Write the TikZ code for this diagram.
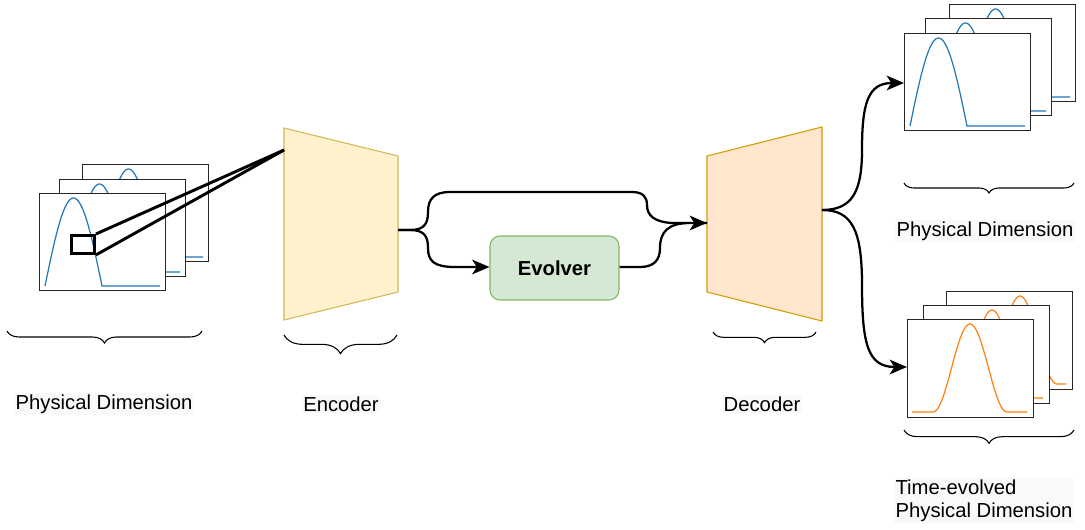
\documentclass[tikz,border=0pt]{standalone}
\usepackage{fontspec}
\setmainfont{Liberation Sans}
\usetikzlibrary{arrows.meta,decorations.pathreplacing}
\definecolor{encfill}{HTML}{FFF2CC}
\definecolor{encdraw}{HTML}{D6B656}
\definecolor{decfill}{HTML}{FFE6CC}
\definecolor{decdraw}{HTML}{D79B00}
\definecolor{evofill}{HTML}{D5E8D4}
\definecolor{evodraw}{HTML}{82B366}
\definecolor{plotblue}{HTML}{1F77B4}
\definecolor{plotorange}{HTML}{FF7F0E}
\definecolor{labelbg}{HTML}{F8F9FA}
\tikzset{
  framebox/.style={draw=black!85, fill=white, line width=0.8pt, minimum width=94.5pt, minimum height=72.75pt, anchor=north west, inner sep=0pt},
  bluecurve/.style={draw=plotblue, line width=0.9pt},
  orangecurve/.style={draw=plotorange, line width=0.9pt},
  flow/.style={line width=1.7pt, draw=black},
  flowarrow/.style={flow, -{Stealth[length=13pt,width=11pt,inset=3.5pt]}},
  zoomline/.style={line width=2.2pt, draw=black},
  brc/.style={decorate, decoration={brace, mirror, amplitude=#1}, line width=0.8pt},
  lbl/.style={font=\fontsize{15.2}{17.4}\selectfont, fill=labelbg, inner sep=1pt},
}
\newcommand{\BlueFrame}[4]{%
  \node[framebox] (#1) at (#2,#3) {};
  \draw[bluecurve] plot[domain=0:1, samples=50] ({#2+6+#4+57*\x},{#3+93-88*sin(180*\x)}) -- (#2+121,#3+93);
}
\newcommand{\OrangeFrame}[4]{%
  \node[framebox, minimum height=73.5pt] (#1) at (#2,#3) {};
  \draw[orangecurve] (#2+5,#3+93) -- (#2+26+#4,#3+93)
    plot[domain=0:1, samples=60] ({#2+26+#4+74*\x},{#3+93-44*(1-cos(360*\x))})
    -- (#2+120,#3+93);
}
\begin{document}
\begin{tikzpicture}[x=0.75pt,y=-0.75pt]
\useasboundingbox (0,0) rectangle (1085,529);

% ---- input stack
\BlueFrame{inB}{82}{164}{12}
\BlueFrame{inM}{59}{179}{6}
\BlueFrame{inF}{39}{193}{0}
\node[draw=black, line width=2.2pt, minimum width=17.25pt, minimum height=13.5pt, anchor=north west, inner sep=0pt] (zr) at (70,234) {};

% ---- encoder
\coordinate (e1) at (284,128);
\coordinate (e2) at (398,156);
\coordinate (e3) at (398,292);
\coordinate (e4) at (284,320);
\draw[fill=encfill, draw=encdraw, line width=0.8pt] (e1) -- (e2) -- (e3) -- (e4) -- cycle;
\coordinate (encIn) at (284,150);
\coordinate (encOut) at (398,230);
\draw[zoomline] (zr.north east) -- (encIn);
\draw[zoomline] (zr.south east) -- (encIn);

% ---- decoder
\coordinate (d1) at (707,156);
\coordinate (d2) at (822,127);
\coordinate (d3) at (822,321);
\coordinate (d4) at (707,292);
\draw[fill=decfill, draw=decdraw, line width=0.8pt] (d1) -- (d2) -- (d3) -- (d4) -- cycle;
\coordinate (decIn) at (707,223);
\coordinate (decOut) at (822,210);

% ---- evolver
\node[draw=evodraw, fill=evofill, line width=0.8pt, rounded corners=7.5pt, minimum width=96.75pt, minimum height=48pt, font=\fontsize{15.2}{17}\selectfont\bfseries] (evo) at (554.5,268) {Evolver};

% ---- flows
\draw[flow] (encOut) -- (410,230) .. controls (424,230) and (428,224) .. (428,212)
  .. controls (428,199) and (434,192) .. (450,192) -- (632,192)
  .. controls (643,192) and (647,197) .. (647,205)
  .. controls (647,216) and (655,222) .. (672,223) -- (685,223);
\draw[flowarrow] (685,223) -- (decIn);
\draw[flowarrow] (encOut) -- (410,230) .. controls (424,230) and (428,236) .. (428,248)
  .. controls (428,261) and (434,267) .. (455,267) -- (evo.west |- 0,267);
\draw[flow] (evo.east |- 0,267) -- (640,267) .. controls (654,267) and (660,260) .. (660,248)
  .. controls (660,232) and (668,223) .. (690,223) -- (decIn);

% ---- output stacks
\BlueFrame{outB}{949}{4}{12}
\BlueFrame{outM}{925}{18}{6}
\BlueFrame{outF}{904}{33}{0}
\OrangeFrame{evB}{946}{291}{11}
\OrangeFrame{evM}{923}{305}{6}
\OrangeFrame{evF}{907}{319}{0}

\draw[flowarrow] (decOut) .. controls (852,210) and (862,192) .. (862,150)
  .. controls (862,103) and (868,83) .. (outF.west |- 0,83);
\draw[flowarrow] (decOut) .. controls (852,210) and (862,230) .. (862,285)
  .. controls (862,345) and (868,367) .. (evF.west |- 0,367);

% ---- braces
\draw[brc=9pt] (7,331) -- (202,331);
\draw[brc=14pt] (284,335) -- (397,335);
\draw[brc=8pt] (713,332) -- (816,332);
\draw[brc=7.5pt] (904,183) -- (1074,183);
\draw[brc=10pt] (904,430) -- (1074,430);

% ---- labels
\node[lbl] (lPD) at (104,404) {Physical Dimension};
\node[lbl] (lEnc) at (341,404) {Encoder};
\node[lbl] (lDec) at (762,404) {Decoder};
\node[lbl] (lPD2) at (985,231) {Physical Dimension};
\node[lbl, align=left, anchor=north west] (lTE) at (894,478) {Time-evolved\\Physical Dimension};
\end{tikzpicture}
\end{document}
